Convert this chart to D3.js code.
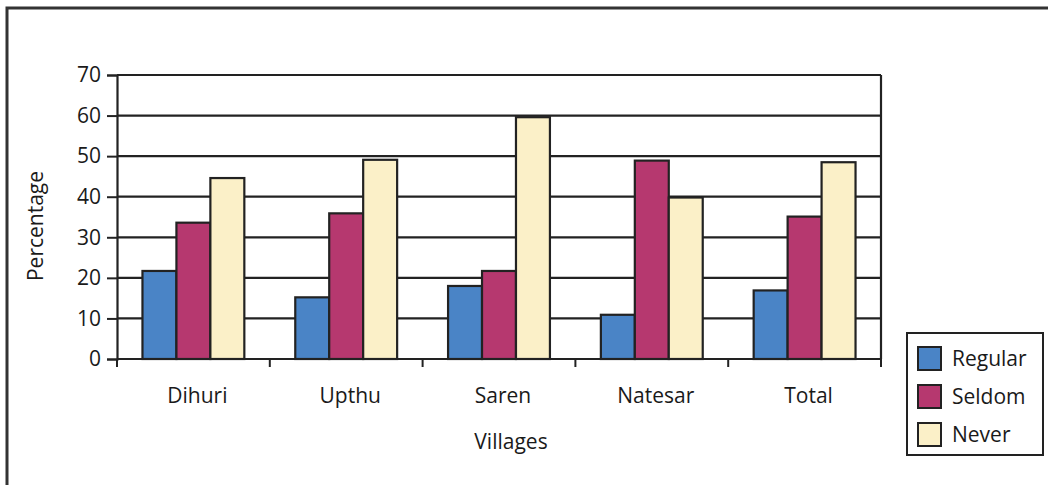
<!DOCTYPE html>
<html>
<head>
<meta charset="utf-8">
<script src="https://cdn.jsdelivr.net/npm/d3@7"></script>
<style>
  body { margin: 0; background: #fff; }
  text { font-family: "Open Sans", sans-serif; fill: #1a1a1a; }
</style>
</head>
<body>
<div id="chart"></div>
<script>
var villages = ["Dihuri", "Upthu", "Saren", "Natesar", "Total"];
var seriesNames = ["Regular", "Seldom", "Never"];
var regular = [21.7, 15.2, 18, 10.9, 16.9];
var seldom = [33.6, 35.9, 21.7, 48.9, 35.1];
var never = [44.6, 49.1, 59.6, 39.8, 48.5];
var yTicks = [0, 10, 20, 30, 40, 50, 60, 70];
var colors = ["#4a84c6", "#b6386f", "#fbf0c8"];

var W = 1048, H = 485;
var margin = { top: 75, right: 167, bottom: 126, left: 117 };
var width = W - margin.left - margin.right;
var height = H - margin.top - margin.bottom;

var svg = d3.select("#chart").append("svg")
    .attr("width", W)
    .attr("height", H);

// outer frame (only top + left visible)
svg.append("path")
    .attr("d", "M7,485 V8 H1048")
    .attr("fill", "none")
    .attr("stroke", "#333")
    .attr("stroke-width", 3);

var g = svg.append("g")
    .attr("transform", "translate(" + margin.left + "," + margin.top + ")");

var x0 = d3.scaleBand().domain(villages).range([0, width]);
var bw = x0.bandwidth();
var x1 = d3.scaleBand().domain(seriesNames).range([bw / 6, bw * 5 / 6]);
var y = d3.scaleLinear().domain([0, 70]).range([height, 0]);

// gridlines
g.selectAll(".grid").data(yTicks).enter().append("line")
    .attr("x1", 0).attr("x2", width)
    .attr("y1", function(d) { return y(d); })
    .attr("y2", function(d) { return y(d); })
    .attr("stroke", "#222")
    .attr("stroke-width", 2.2);

// right frame edge
g.append("line")
    .attr("x1", width).attr("x2", width)
    .attr("y1", 0).attr("y2", height)
    .attr("stroke", "#222").attr("stroke-width", 2.2);

var rows = villages.map(function(v, i) {
    return { name: v, values: [regular[i], seldom[i], never[i]] };
});

var groups = g.selectAll(".grp").data(rows).enter().append("g")
    .attr("transform", function(d) { return "translate(" + x0(d.name) + ",0)"; });

groups.selectAll("rect").data(function(d) {
        return d.values.map(function(v, j) { return { s: seriesNames[j], v: v, j: j }; });
    })
    .enter().append("rect")
    .attr("x", function(d) { return x1(d.s); })
    .attr("width", x1.bandwidth())
    .attr("y", function(d) { return y(d.v); })
    .attr("height", function(d) { return height - y(d.v); })
    .attr("fill", function(d) { return colors[d.j]; })
    .attr("stroke", "#222")
    .attr("stroke-width", 2.2);

// y axis
var yAxis = g.append("g")
    .call(d3.axisLeft(y).tickValues(yTicks).tickSize(10).tickPadding(6));
yAxis.select(".domain").attr("stroke", "#222").attr("stroke-width", 2.2);
yAxis.selectAll(".tick line").attr("stroke", "#222").attr("stroke-width", 2);
yAxis.selectAll(".tick text")
    .style("font-size", "21px")
    .style("font-family", "'Open Sans', sans-serif")
    .attr("fill", "#1a1a1a");

// x axis: ticks at the category boundaries
var xAxis = g.append("g").attr("transform", "translate(0," + height + ")");
xAxis.append("line")
    .attr("x1", 0).attr("x2", width)
    .attr("stroke", "#222").attr("stroke-width", 2.2);
var bounds = villages.map(function(v) { return x0(v); }).concat([width]);
xAxis.selectAll(".xt").data(bounds).enter().append("line")
    .attr("x1", function(d) { return d; })
    .attr("x2", function(d) { return d; })
    .attr("y1", 0).attr("y2", 8)
    .attr("stroke", "#222").attr("stroke-width", 2);
xAxis.selectAll(".xl").data(villages).enter().append("text")
    .attr("x", function(d) { return x0(d) + bw / 2 + 4; })
    .attr("y", 44)
    .attr("text-anchor", "middle")
    .style("font-size", "21px")
    .text(function(d) { return d; });

// axis titles
svg.append("text")
    .attr("x", 511).attr("y", 449)
    .attr("text-anchor", "middle")
    .style("font-size", "21px")
    .text("Villages");

svg.append("text")
    .attr("transform", "translate(43,226) rotate(-90)")
    .attr("text-anchor", "middle")
    .style("font-size", "21px")
    .text("Percentage");

// legend
var leg = svg.append("g").attr("transform", "translate(907,333)");
leg.append("rect")
    .attr("width", 136).attr("height", 122)
    .attr("fill", "#fff")
    .attr("stroke", "#222").attr("stroke-width", 2);
var items = leg.selectAll(".li").data(seriesNames).enter().append("g")
    .attr("transform", function(d, i) { return "translate(11," + (14 + i * 38) + ")"; });
items.append("rect")
    .attr("width", 23).attr("height", 23)
    .attr("fill", function(d, i) { return colors[i]; })
    .attr("stroke", "#222").attr("stroke-width", 2);
items.append("text")
    .attr("x", 34).attr("y", 19)
    .style("font-size", "21px")
    .text(function(d) { return d; });
</script>
</body>
</html>
